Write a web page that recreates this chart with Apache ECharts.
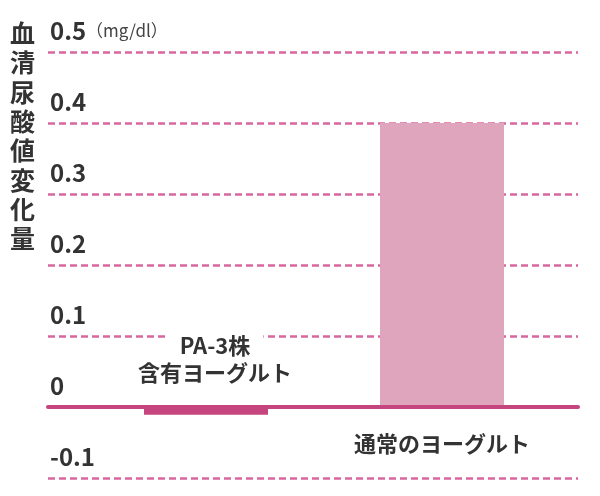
<!DOCTYPE html>
<html><head><meta charset="utf-8">
<script src="https://cdn.jsdelivr.net/npm/echarts@6/dist/echarts.min.js"></script>
<style>html,body{margin:0;padding:0;background:#fff}#c{width:600px;height:496px}</style>
</head><body><div id="c"></div>
<script>
const categories = ['PA-3株\n含有ヨーグルト', '通常のヨーグルト'];
const values = [-0.011, 0.4];
const yTickLabels = ['-0.1', '0', '0.1', '0.2', '0.3', '0.4', '0.5'];
const yTitle = '血清尿酸値変化量';
const unit = '（mg/dl）';
const yMin = -0.1, yMax = 0.5, yStep = 0.1;

const jp = '"Noto Sans CJK JP", "Noto Sans", sans-serif';
const chart = echarts.init(document.getElementById('c'), null, {renderer: 'canvas'});
const catLabel = {
  show: true, fontFamily: jp, fontSize: 22, lineHeight: 27, fontWeight: 'bold', color: '#333',
  formatter: function (p) {
    const lines = p.name.split('\n');
    return lines.length > 1 ? '{t|' + lines[0] + '}\n' + lines.slice(1).join('\n') : p.name;
  },
  rich: {t: {fontFamily: jp, fontSize: 22, lineHeight: 27, fontWeight: 'bold', color: '#333', backgroundColor: '#fff', padding: [0, 13]}}
};
chart.setOption({
  backgroundColor: '#fff',
  animation: false,
  title: {
    text: yTitle.split('').join('\n'),
    left: 5, top: 14,
    textStyle: {fontFamily: jp, fontSize: 25, lineHeight: 29.3, fontWeight: 'bold', color: '#333'}
  },
  grid: [
    {left: 48, right: 22, top: 52, bottom: 18, containLabel: false, outerBoundsMode: 'none'},
    {left: 88, right: 40, top: 52, bottom: 18, containLabel: false, outerBoundsMode: 'none'}
  ],
  xAxis: [
    {
      gridIndex: 0, type: 'category', data: categories, z: 5,
      axisLine: {onZero: true, lineStyle: {color: '#c5457e', width: 4}},
      axisTick: {show: false}, axisLabel: {show: false}, splitLine: {show: false}
    },
    {
      gridIndex: 1, type: 'category', data: categories,
      axisLine: {show: false}, axisTick: {show: false}, axisLabel: {show: false}
    }
  ],
  yAxis: [
    {
      gridIndex: 0, type: 'value', min: yMin, max: yMax, interval: yStep,
      axisLine: {show: false}, axisTick: {show: false},
      splitLine: {show: true, lineStyle: {color: '#d8679f', width: 2.5, type: [7, 4]}},
      axisLabel: {
        inside: true, margin: 2, align: 'left', verticalAlign: 'bottom',
        padding: [0, 0, 8, 0],
        fontFamily: jp, fontSize: 24, lineHeight: 26, fontWeight: 'bold', color: '#333',
        formatter: function (v) {
          const i = Math.round((v - yMin) / yStep);
          const t = yTickLabels[i];
          return i === yTickLabels.length - 1 ? t + '{u|' + unit + '}' : t;
        },
        rich: {u: {fontFamily: jp, fontSize: 17, fontWeight: 'normal', color: '#444', padding: [0, 0, 0, 0]}}
      }
    },
    {
      gridIndex: 1, type: 'value', min: yMin, max: yMax, interval: yStep,
      axisLine: {show: false}, axisTick: {show: false}, axisLabel: {show: false}, splitLine: {show: false}
    }
  ],
  series: [{
    type: 'bar', xAxisIndex: 1, yAxisIndex: 1, barWidth: 124,
    data: values.map((v, i) => ({
      value: v,
      itemStyle: {color: i === 0 ? '#c5457e' : '#dea5bd'},
      label: Object.assign({}, catLabel, i === 0 ? {position: 'top', distance: 21, offset: [9, 0]} : {position: 'bottom', distance: 23})
    }))
  }]
});
</script></body></html>
